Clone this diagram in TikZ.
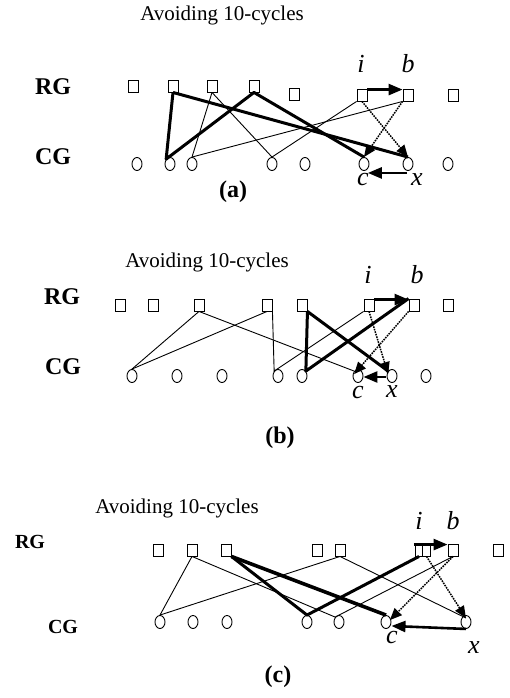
\documentclass[tikz,border=0pt]{standalone}
\usepackage{fontspec}
\setmainfont{Liberation Serif}
\usetikzlibrary{arrows.meta,shapes.geometric}
\begin{document}
\begin{tikzpicture}[x=1pt,y=-1pt,
  sq/.style={draw,rectangle,minimum width=10pt,minimum height=12pt,inner sep=0pt,line width=0.9pt},
  sqh/.style={draw,rectangle,minimum width=7.5pt,minimum height=12pt,inner sep=0pt,line width=0.9pt},
  cir/.style={draw,ellipse,minimum width=10pt,minimum height=13pt,inner sep=0pt,line width=0.9pt},
  thin/.style={line width=0.9pt},
  thk/.style={line width=3pt,line join=round},
  thkk/.style={line width=3.6pt},
  dotarr/.style={dash pattern=on 1.6pt off 1pt,line width=1.5pt,-{Triangle[length=12pt,width=10pt]}},
  bigarr/.style={line width=2.6pt,-{Triangle[length=14pt,width=11pt]}},
  ttl/.style={font=\fontsize{21}{24}\selectfont,inner sep=0pt},
  grp/.style={font=\fontsize{24}{27}\selectfont\bfseries,inner sep=0pt},
  grpc/.style={font=\fontsize{20}{23}\selectfont\bfseries,inner sep=0pt},
  lbl/.style={font=\fontsize{26}{28}\selectfont\itshape,inner sep=0pt},
  subcap/.style={font=\fontsize{24}{27}\selectfont\bfseries,inner sep=0pt}]
\useasboundingbox[fill=white] (0,0) rectangle (510,698);

% ---------------- Panel (a) ----------------
\node[ttl] (ta) at (222,15) {Avoiding 10-cycles};
\node[grp] (rga) at (53,87) {RG};
\node[grp] (cga) at (53,157) {CG};
\node[subcap] (capa) at (233,192) {(a)};
\node[sq] (ar1) at (133,86) {};
\node[sq] (ar2) at (173,86) {};
\node[sq] (ar3) at (212,86) {};
\node[sq] (ar4) at (254,86) {};
\node[sq] (ar5) at (294,94) {};
\node[sq] (ai)  at (362,95) {};
\node[sq] (ab)  at (408,95) {};
\node[sq] (ar8) at (453,95) {};
\node[cir] (ac1) at (137,164) {};
\node[cir] (ac2) at (170,164) {};
\node[cir] (ac3) at (192,164) {};
\node[cir] (ac4) at (272,164) {};
\node[cir] (ac5) at (305,164) {};
\node[cir] (acc) at (364,164) {};
\node[cir] (acx) at (408,164) {};
\node[cir] (ac8) at (448,164) {};
\node[lbl] (lai) at (361,64) {i};
\node[lbl] (lab) at (408,64) {b};
\node[lbl] (lac) at (363,180) {c};
\node[lbl] (lax) at (417,180) {x};
% thin
\draw[thin] (ar3.south) -- (ac3.north);
\draw[thin] (ar3.south) -- (ac4.north);
\draw[thin] (ac3.north) -- (ab.south west);
\draw[thin] (ac4.north) -- (ai.south west);
% thick
\draw[thk] (ar2.south) -- (ac2.north west) -- (ar4.south) -- (acc.north);
\draw[thk] (ar2.south) -- (acx.north);
% dotted
\draw[dotarr] (ai.south) -- (acx.north);
\draw[dotarr] (ab.south west) -- (acc.north);
% arrows
\draw[bigarr] (ai.north east) ++(0,1) coordinate (aia) -- (ab.north west |- aia);
\draw[bigarr] (acx.south) ++(-1,2) coordinate (axa) -- (acc.south east |- axa);

% ---------------- Panel (b) ----------------
\node[ttl] (tb) at (207,262) {Avoiding 10-cycles};
\node[grp] (rgb) at (62,297) {RG};
\node[grp] (cgb) at (63,367) {CG};
\node[subcap] (capb) at (280,438) {(b)};
\node[sq] (br1) at (120,305) {};
\node[sq] (br2) at (153,305) {};
\node[sq] (br3) at (199,305) {};
\node[sq] (br4) at (267,305) {};
\node[sq] (br5) at (302,305) {};
\node[sq] (bi)  at (369,305) {};
\node[sq] (bb)  at (414,305) {};
\node[sq] (br8) at (448,305) {};
\node[cir] (bc1) at (132,376) {};
\node[cir] (bc2) at (177,376) {};
\node[cir] (bc3) at (222,376) {};
\node[cir] (bc4) at (278,376) {};
\node[cir] (bc5) at (302,376) {};
\node[cir] (bcc) at (358,376) {};
\node[cir] (bcx) at (392,376) {};
\node[cir] (bc8) at (426,376) {};
\node[lbl] (lbi) at (368,275) {i};
\node[lbl] (lbb) at (417,275) {b};
\node[lbl] (lbc) at (358,392) {c};
\node[lbl] (lbx) at (392,392) {x};
% thin
\draw[thin] (br3.south) -- (bc1.north);
\draw[thin] (br4.south) -- (bc1.north);
\draw[thin] (br3.south) -- (bcc.north west);
\draw[thin] (br4.south east) -- (bc4.north west) -- (bi.south west);
% thick
\draw[thk] (br5.south east) -- (bc5.north east) -- (bb.north west);
\draw[thk] (br5.south east) -- (bcx.north west);
% dotted
\draw[dotarr] (bi.south) -- ([yshift=-3pt]bcx.north west);
\draw[dotarr] (bb.south west) -- ([yshift=-3pt]bcc.north west);
% arrows
\draw[bigarr] (bi.north east) ++(0,1) coordinate (bia) -- (bb.north west |- bia);
\draw[bigarr] (bcx.west) ++(-1,1) coordinate (bxa) -- (bcc.east |- bxa);

% ---------------- Panel (c) ----------------
\node[ttl] (tc) at (177,508) {Avoiding 10-cycles};
\node[grpc] (rgc) at (30,542) {RG};
\node[grpc] (cgc) at (63,627) {CG};
\node[subcap] (capc) at (278,677) {(c)};
\node[sq] (cr1) at (158,550) {};
\node[sq] (cr2) at (192,550) {};
\node[sq] (cr3) at (226,550) {};
\node[sq] (cr4) at (317,550) {};
\node[sq] (cr5) at (340,550) {};
\node[sqh] (ci)  at (419,550) {};
\node[sqh] (ci2) at (426.5,550) {};
\node[sq] (cb)  at (453,550) {};
\node[sq] (cr8) at (498,550) {};
\node[cir] (cc1) at (160,622) {};
\node[cir] (cc2) at (193,622) {};
\node[cir] (cc3) at (227,622) {};
\node[cir] (cc4) at (307,622) {};
\node[cir] (cc5) at (339,622) {};
\node[cir] (ccc) at (386,622) {};
\node[cir] (ccx) at (466,622) {};
\node[lbl] (lci) at (419,521) {i};
\node[lbl] (lcb) at (453,521) {b};
\node[lbl] (lcc) at (392,637) {c};
\node[lbl] (lcx) at (474,648) {x};
% thin
\draw[thin] (cr2.south) -- (cc1.north);
\draw[thin] (cc1.north) -- (cr5.south);
\draw[thin] (cr2.south) -- (cc5.north west);
\draw[thin] (cc5.north west) -- (cb.south);
\draw[thin] (cr5.south) -- ([yshift=-3pt]ccx.north);
% thick
\draw[thk] (cr3.south east) -- (cc4.north) -- (ci.south);
\draw[thkk] (cr3.south east) -- (ccc.north);
% dotted
\draw[dotarr] (cb.south) -- ([yshift=-3pt]ccc.north east);
\draw[dotarr] (ci2.south) -- ([yshift=-3pt]ccx.north);
% arrows
\draw[bigarr] (ci.north west) ++(-1,1) coordinate (cia) -- (cb.north west |- cia);
\draw[bigarr] (ccx.south) ++(0,0) coordinate (cxa) -- ([yshift=3pt]ccc.east |- cxa);
\end{tikzpicture}
\end{document}
